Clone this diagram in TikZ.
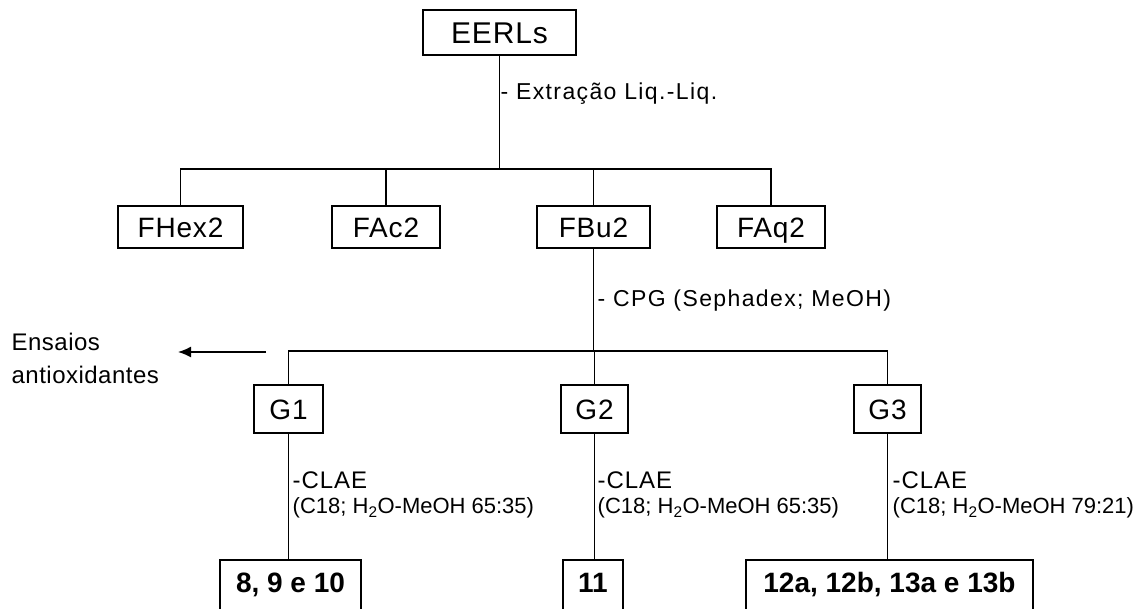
\documentclass[tikz,border=0pt]{standalone}
\usepackage{fontspec}
\setmainfont{Liberation Sans}
\newfontfamily\labfont[LetterSpace=6]{Liberation Sans}
\newfontfamily\boxfont[LetterSpace=3]{Liberation Sans}
\newfontfamily\claefont[LetterSpace=4]{Liberation Sans}
\newfontfamily\ensfont[LetterSpace=2]{Liberation Sans}
\usetikzlibrary{arrows.meta}
\begin{document}
\begin{tikzpicture}[x=1pt,y=-1pt,line width=1.4pt,
  box/.style={draw,line width=1.4pt,inner sep=0pt,text height=20pt,text depth=0pt,font=\fontsize{28}{32}\boxfont},
  resbox/.style={draw,line width=1.4pt,inner sep=0pt,text height=20pt,text depth=8pt,font=\fontsize{28}{32}\selectfont\bfseries},
  lab/.style={inner sep=0pt,font=\fontsize{23}{27}\labfont},
  clae/.style={inner sep=0pt,align=left,anchor=north west,font=\fontsize{22}{25}\selectfont},
  conn/.style={line width=1.4pt}]
\clip (0,0) rectangle (1146,608);
% boxes
\node[box,font=\fontsize{30}{34}\boxfont,text height=21.5pt,minimum width=153pt,minimum height=45pt] (E) at (499.5,32.5) {EERLs};
\node[box,minimum width=125pt,minimum height=42pt] (FHex) at (180.5,227) {FHex2};
\node[box,minimum width=108pt,minimum height=42pt] (FAc) at (386,227) {FAc2};
\node[box,minimum width=113pt,minimum height=42pt] (FBu) at (593.5,227) {FBu2};
\node[box,minimum width=108pt,minimum height=42pt] (FAq) at (771,227) {FAq2};
\node[box,minimum width=69pt,minimum height=48pt] (G1) at (288.5,409) {G1};
\node[box,minimum width=67pt,minimum height=48pt] (G2) at (594.5,409) {G2};
\node[box,minimum width=67pt,minimum height=48pt] (G3) at (887.5,409) {G3};
\node[resbox,minimum width=141pt,minimum height=52pt] (B1) at (290.5,586) {8, 9 e 10};
\node[resbox,minimum width=60pt,minimum height=52pt] (B2) at (593,586) {11};
\node[resbox,minimum width=287pt,minimum height=52pt] (B3) at (889.5,586) {12a, 12b, 13a e 13b};
% junctions
\coordinate (j1) at (498,169);
\coordinate (j2) at (593,351);
\draw[conn] (E.south) -- (E.south |- j1);
\draw[conn] (FHex.north) |- (FAq.north |- j1) -- (FAq.north);
\draw[conn] (FAc.north) -- (FAc.north |- j1);
\draw[conn] (FBu.north) -- (FBu.north |- j1);
\draw[conn] (FBu.south) -- (FBu.south |- j2);
\draw[conn] (G1.north) |- (G3.north |- j2) -- (G3.north);
\draw[conn] (G2.north) -- (G2.north |- j2);
\draw[conn] (G1.south) -- (G1.south |- B1.north);
\draw[conn] (G2.south) -- (G2.south |- B2.north);
\draw[conn] (G3.south) -- (G3.south |- B3.north);
% arrow to assays
\coordinate (atail) at (266,352);
\coordinate (ahead) at (178,352);
\draw[conn,-{Latex[length=13pt,width=11pt]}] (atail) -- (ahead);
\node[inner sep=0pt,align=left,anchor=north west,font=\fontsize{24}{33}\ensfont] (ens) at (11,332) {Ensaios\\antioxidantes};
% labels
\node[lab,anchor=base west] (l1) at (500,99) {- Extração Liq.-Liq.};
\node[lab,anchor=base west] (l2) at (597,306) {- CPG (Sephadex; MeOH)};
\node[clae] (c1) at (292,471) {{\fontsize{24}{25}\claefont -CLAE}\\(C18; H\textsubscript{2}O-MeOH 65:35)};
\node[clae] (c2) at (597,471) {{\fontsize{24}{25}\claefont -CLAE}\\(C18; H\textsubscript{2}O-MeOH 65:35)};
\node[clae] (c3) at (892,471) {{\fontsize{24}{25}\claefont -CLAE}\\(C18; H\textsubscript{2}O-MeOH 79:21)};
\end{tikzpicture}
\end{document}
